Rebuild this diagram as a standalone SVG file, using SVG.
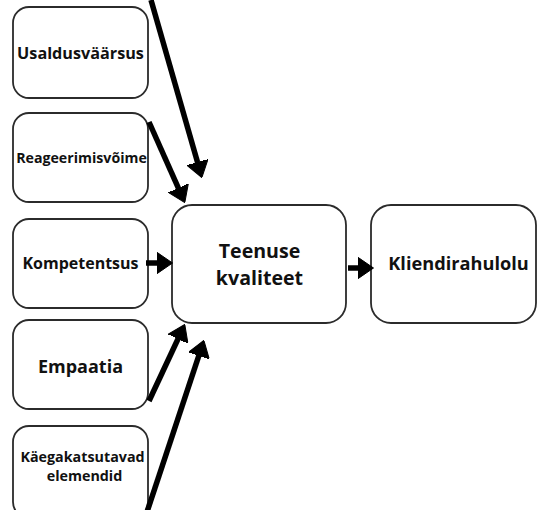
<svg xmlns="http://www.w3.org/2000/svg" width="537" height="510" viewBox="0 0 537 510">
  <style>
    .box { fill: #ffffff; stroke: #2b2b2b; stroke-width: 1.8; }
    .lbl { font-family: "Open Sans", "Liberation Sans", sans-serif; font-weight: 700; fill: #111111; text-anchor: middle; }
    .arr { stroke: #000000; stroke-width: 5.5; fill: none; marker-end: url(#head); }
  </style>
  <defs>
    <marker id="head" viewBox="0 0 16 22" refX="0.5" refY="11" markerWidth="16" markerHeight="22" markerUnits="userSpaceOnUse" orient="auto">
      <path d="M0,0 L16,11 L0,22 Z" fill="#000000" stroke="#000000" stroke-width="1" stroke-linejoin="round"/>
    </marker>
  </defs>
  <rect width="537" height="510" fill="#ffffff"/>

  <g id="usaldusvaarsus">
    <rect class="box" x="13" y="7" width="135" height="91" rx="16"/>
    <text class="lbl" x="80.5" y="59" font-size="16.2">Usaldusväärsus</text>
  </g>
  <g id="reageerimisvoime">
    <rect class="box" x="13" y="113" width="135" height="89" rx="16"/>
    <text class="lbl" x="81.5" y="163" font-size="14.2">Reageerimisvõime</text>
  </g>
  <g id="kompetentsus">
    <rect class="box" x="13" y="219" width="135" height="89" rx="16"/>
    <text class="lbl" x="80.5" y="269" font-size="16">Kompetentsus</text>
  </g>
  <g id="empaatia">
    <rect class="box" x="13" y="320" width="135" height="89" rx="16"/>
    <text class="lbl" x="80.5" y="373" font-size="18">Empaatia</text>
  </g>
  <g id="kaegakatsutavad">
    <rect class="box" x="13" y="426" width="135" height="92" rx="16"/>
    <text class="lbl" x="82.5" y="462" font-size="14.3">Käegakatsutavad</text>
    <text class="lbl" x="84.5" y="481" font-size="14.3">elemendid</text>
  </g>
  <g id="teenuse-kvaliteet">
    <rect class="box" x="172" y="205" width="174" height="118" rx="20"/>
    <text class="lbl" x="259.5" y="258" font-size="19.6">Teenuse</text>
    <text class="lbl" x="259.5" y="285" font-size="19.6">kvaliteet</text>
  </g>
  <g id="kliendirahulolu">
    <rect class="box" x="371" y="205" width="165" height="118" rx="20"/>
    <text class="lbl" x="458.5" y="270" font-size="18.2">Kliendirahulolu</text>
  </g>

  <g id="connectors">
    <line class="arr" x1="151" y1="0" x2="197.6" y2="162.6"/>
    <line class="arr" x1="149" y1="122" x2="178.5" y2="188.4"/>
    <line class="arr" x1="146" y1="263" x2="157" y2="263"/>
    <line class="arr" x1="149" y1="401" x2="178.2" y2="338.5"/>
    <line class="arr" x1="147" y1="512" x2="199" y2="355.2"/>
    <line class="arr" x1="348" y1="268" x2="358" y2="268"/>
  </g>
</svg>
